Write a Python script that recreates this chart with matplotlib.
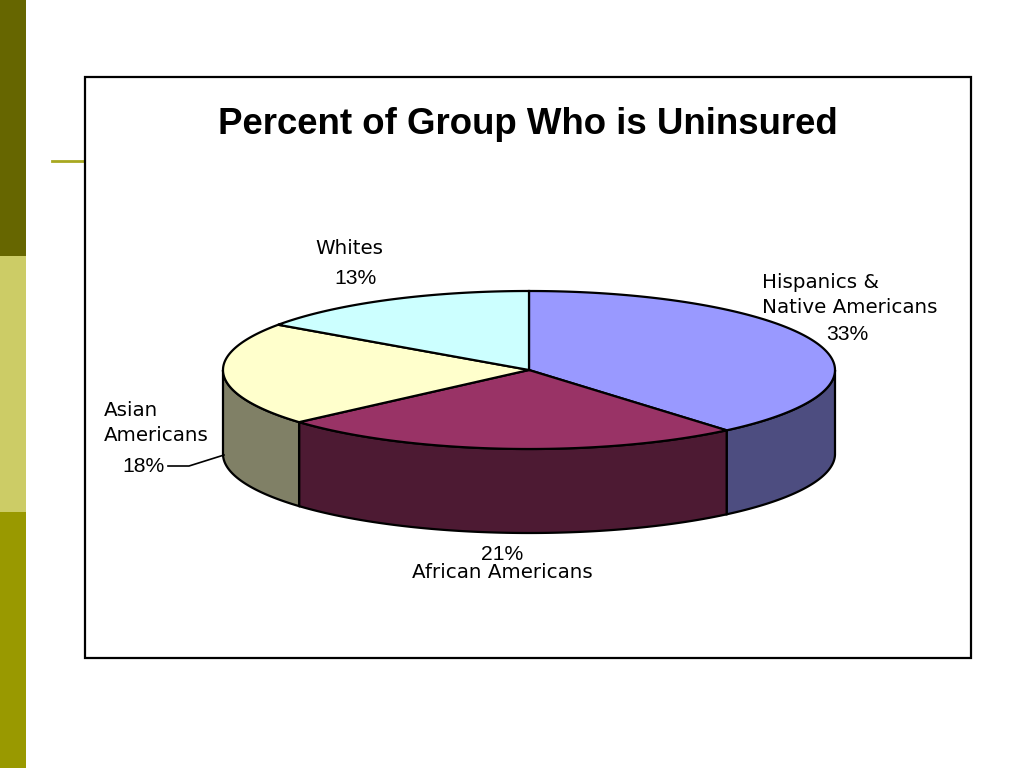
import numpy as np
import matplotlib
matplotlib.use("Agg")
import matplotlib.pyplot as plt
from matplotlib.patches import Polygon, Rectangle

title = "Percent of Group Who is Uninsured"
groups = ["Hispanics &\nNative Americans", "African Americans", "Asian\nAmericans", "Whites"]
values = [33, 21, 18, 13]
top_colors = ["#9999FF", "#993366", "#FFFFCC", "#CCFFFF"]
side_colors = ["#4D4D80", "#4D1A33", "#808066", "#668080"]

# pie geometry in figure pixels
cx, cy = 529, 370
rx, ry = 306, 79
depth = 84


def rim(t0, t1, n=200):
    t = np.radians(np.linspace(t0, t1, n))
    return cx + rx*np.sin(t), cy - ry*np.cos(t)


fig = plt.figure(figsize=(10.24, 7.68), dpi=100)
ax = fig.add_axes([0, 0, 1, 1])
ax.set_xlim(0, 1024)
ax.set_ylim(768, 0)
ax.axis("off")

# slide decoration
ax.add_patch(Rectangle((0, 0), 26, 256, fc="#666600", ec="none"))
ax.add_patch(Rectangle((0, 256), 26, 256, fc="#CCCC66", ec="none"))
ax.add_patch(Rectangle((0, 512), 26, 256, fc="#999900", ec="none"))
ax.plot([52, 85], [161, 161], color="#A8A820", lw=2)
ax.add_patch(Rectangle((85, 77), 886, 581, fc="white", ec="black", lw=1.6, zorder=2))

ax.text(527.5, 124, title, fontsize=26.35, fontweight="bold", family="Liberation Sans",
        ha="center", va="center", zorder=5)

ends = np.cumsum(values)/np.sum(values)*360
starts = np.concatenate([[0], ends[:-1]])

# sides first, only the front half of the rim shows
for a, b, c in zip(starts, ends, side_colors):
    a2, b2 = max(a, 90), min(b, 270)
    if a2 >= b2:
        continue
    x, y = rim(a2, b2)
    pts = np.column_stack([np.r_[x, x[::-1]], np.r_[y, y[::-1] + depth]])
    ax.add_patch(Polygon(pts, fc=c, ec="black", lw=1.6, zorder=3))

for a, b, c in zip(starts, ends, top_colors):
    x, y = rim(a, b)
    pts = np.column_stack([np.r_[cx, x], np.r_[cy, y]])
    ax.add_patch(Polygon(pts, fc=c, ec="black", lw=1.6, zorder=4))

lab = dict(fontsize=14.35, family="DejaVu Sans", zorder=5)
pct = dict(fontsize=15.2, family="Liberation Sans", ha="center", va="center", zorder=5)
ax.text(315, 248, groups[3], va="center", **lab)
ax.text(356, 278, "%d%%" % values[3], **pct)
ax.text(762, 295, groups[0], va="center", linespacing=1.35, **lab)
ax.text(847, 334, "%d%%" % values[0], **pct)
ax.text(104, 423, groups[2], va="center", linespacing=1.35, **lab)
ax.text(143, 467, "%d%%" % values[2], **pct)
ax.text(502, 554, "%d%%" % values[1], **pct)
ax.text(502, 573, groups[1], va="center", ha="center", **lab)
ax.plot([168, 189, 224], [466, 466, 455], color="black", lw=1.2, zorder=5)

fig.savefig("out.png", dpi=100)
